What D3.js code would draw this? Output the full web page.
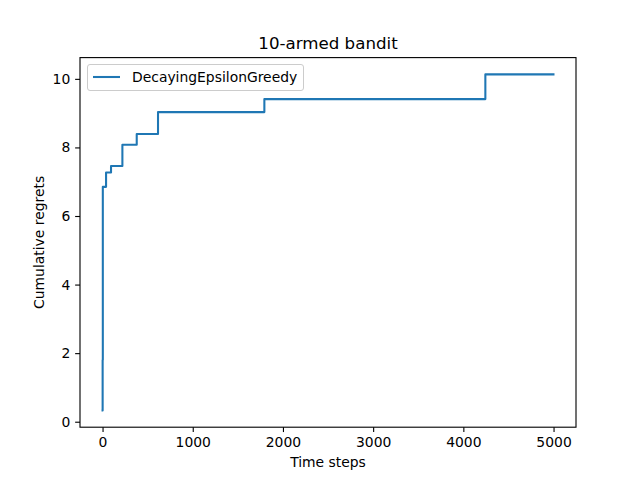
<!DOCTYPE html>
<html><head><meta charset="utf-8">
<script src="https://cdn.jsdelivr.net/npm/d3@7"></script>
<style>body{margin:0;background:#fff}svg{display:block}text{font-family:"DejaVu Sans",sans-serif;fill:#000}</style>
</head><body>
<script>
const seriesName = "DecayingEpsilonGreedy";
const changeSteps = [0, 1, 3, 39, 94, 220, 379, 615, 1794, 4244];
const regretLevels = [0.33, 1.80, 6.85, 7.27, 7.46, 8.08, 8.39, 9.03, 9.41, 10.13];
const lastStep = 4999;
const xTicks = [0, 1000, 2000, 3000, 4000, 5000];
const yTicks = [0, 2, 4, 6, 8, 10];

const W = 640, H = 480;
const m = {left: 80, right: 576, top: 57.6, bottom: 427.2};
const svg = d3.select("body").append("svg").attr("width", W).attr("height", H);

const pts = changeSteps.map((s, i) => [s, regretLevels[i]]);
pts.push([lastStep, regretLevels[regretLevels.length - 1]]);

const xmin = 0, xmax = lastStep;
const xr = xmax - xmin;
const ymin = d3.min(regretLevels), ymax = d3.max(regretLevels), yr = ymax - ymin;
const x = d3.scaleLinear().domain([xmin - 0.05 * xr, xmax + 0.05 * xr]).range([m.left, m.right]);
const y = d3.scaleLinear().domain([ymin - 0.05 * yr, ymax + 0.05 * yr]).range([m.bottom, m.top]);

const line = d3.line().x(d => x(d[0])).y(d => y(d[1])).curve(d3.curveStepAfter);
svg.append("path").datum(pts).attr("d", line)
  .attr("fill", "none").attr("stroke", "#1f77b4").attr("stroke-width", 2.08)
  .attr("stroke-linejoin", "round").attr("stroke-linecap", "square");

const fs = "13.9px";
const xAxis = svg.append("g").attr("transform", `translate(0,${m.bottom})`)
  .call(d3.axisBottom(x).tickValues(xTicks).tickSize(4.86).tickPadding(4.86).tickFormat(d3.format("d")));
const yAxis = svg.append("g").attr("transform", `translate(${m.left},0)`)
  .call(d3.axisLeft(y).tickValues(yTicks).tickSize(4.86).tickPadding(4.86).tickFormat(d3.format("d")));
[xAxis, yAxis].forEach(g => {
  g.select(".domain").remove();
  g.selectAll("line").attr("stroke", "#000").attr("stroke-width", 1.11);
  g.selectAll("text").attr("font-size", fs).attr("font-family", "DejaVu Sans");
});

svg.append("rect").attr("x", m.left).attr("y", m.top)
  .attr("width", m.right - m.left).attr("height", m.bottom - m.top)
  .attr("fill", "none").attr("stroke", "#000").attr("stroke-width", 1.11);

svg.append("text").attr("x", (m.left + m.right) / 2).attr("y", 49)
  .attr("text-anchor", "middle").attr("font-size", "16.67px").text("10-armed bandit");
svg.append("text").attr("x", (m.left + m.right) / 2).attr("y", 467)
  .attr("text-anchor", "middle").attr("font-size", fs).text("Time steps");
svg.append("text").attr("transform", `translate(44,${(m.top + m.bottom) / 2}) rotate(-90)`)
  .attr("text-anchor", "middle").attr("font-size", fs).text("Cumulative regrets");

// legend
const lg = svg.append("g");
lg.append("rect").attr("x", 87.5).attr("y", 64.5).attr("width", 216).attr("height", 26).attr("rx", 2.5)
  .attr("fill", "#fff").attr("fill-opacity", 0.8).attr("stroke", "#ccc").attr("stroke-width", 1);
lg.append("line").attr("x1", 93).attr("x2", 120).attr("y1", 77).attr("y2", 77)
  .attr("stroke", "#1f77b4").attr("stroke-width", 2.08);
lg.append("text").attr("x", 132).attr("y", 82).attr("font-size", fs).text(seriesName);
</script>
</body></html>
